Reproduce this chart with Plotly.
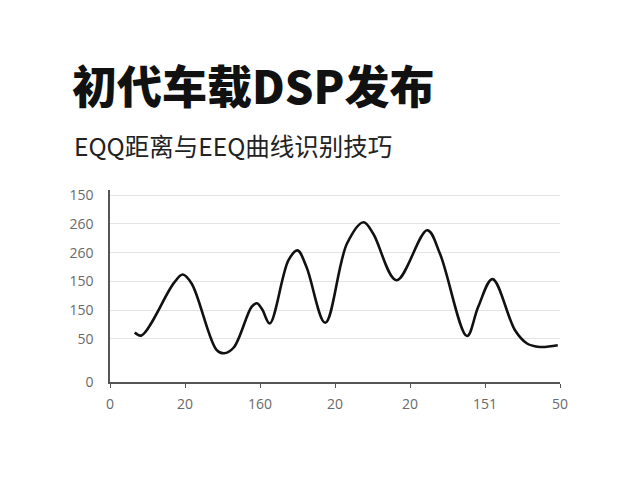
import plotly.graph_objects as go

# curve (x in tick-slot units, y in axis units)
curve_x = [0.33, 0.42, 0.85, 0.97, 1.09, 1.42, 1.52, 1.65, 1.89, 1.96, 2.03, 2.13,
           2.38, 2.50, 2.62, 2.87, 3.16, 3.38, 3.51, 3.82, 4.23, 4.40, 4.76,
           4.91, 5.10, 5.40, 5.56, 5.73, 5.97]
curve_y = [86, 81, 172, 187, 171, 56, 50, 60, 131, 137, 126, 102,
           212, 229, 200, 103, 241, 278, 258, 177, 264, 223, 80,
           131, 179, 90, 67, 61, 64]

x_tickvals = [0, 1, 2, 3, 4, 5, 6]
x_ticktext = ["0", "20", "160", "20", "20", "151", "50"]
y_tickvals = [0, 75, 125, 175, 225, 275, 325]
y_ticktext = ["0", "50", "150", "150", "260", "260", "150"]

title = "初代车载DSP发布"
subtitle = "EQQ距离与EEQ曲线识别技巧"

fig = go.Figure()
fig.add_trace(go.Scatter(
    x=curve_x,
    y=curve_y,
    mode='lines',
    line=dict(color='#111111', width=2.6, shape='spline', smoothing=1.0),
    hoverinfo='none'
))

tick_font = dict(family='Open Sans, sans-serif', size=14, color='#6a6a6a')

# the page body adds 8px, so margins are shifted to land the plot at 110..560 / 190..382
fig.update_layout(
    width=640, height=480,
    margin=dict(l=102, r=88, t=182, b=106),
    paper_bgcolor='white',
    plot_bgcolor='white',
    showlegend=False,
    title=dict(
        text=title,
        font=dict(family='Noto Sans CJK SC', size=45, color='#111111', weight=900),
        xref='container', x=(72 - 8) / 640, xanchor='left',
        yref='container', y=1 - (88 - 8) / 480, yanchor='middle'
    ),
    annotations=[dict(
        text=subtitle,
        font=dict(family='Noto Sans CJK SC', size=24.5, color='#222222'),
        xref='paper', x=(72 - 110) / 450, xanchor='left',
        yref='paper', y=(382 - 145) / 192, yanchor='middle',
        showarrow=False
    )],
    xaxis=dict(
        range=[0, 6],
        tickvals=x_tickvals, ticktext=x_ticktext,
        showgrid=False, zeroline=False,
        showline=True, linecolor='#555555', linewidth=1.5,
        ticks='outside', ticklen=4, tickcolor='#555555', tickwidth=1.2,
        ticklabelstandoff=4,
        tickfont=tick_font
    ),
    yaxis=dict(
        range=[0, 334],
        tickvals=y_tickvals, ticktext=y_ticktext,
        showgrid=True, gridcolor='#e4e4e4', gridwidth=1,
        zeroline=False,
        showline=True, linecolor='#555555', linewidth=1.5,
        ticks='', ticklabelstandoff=12,
        tickfont=tick_font
    ),
)

fig.write_html("out.html")
